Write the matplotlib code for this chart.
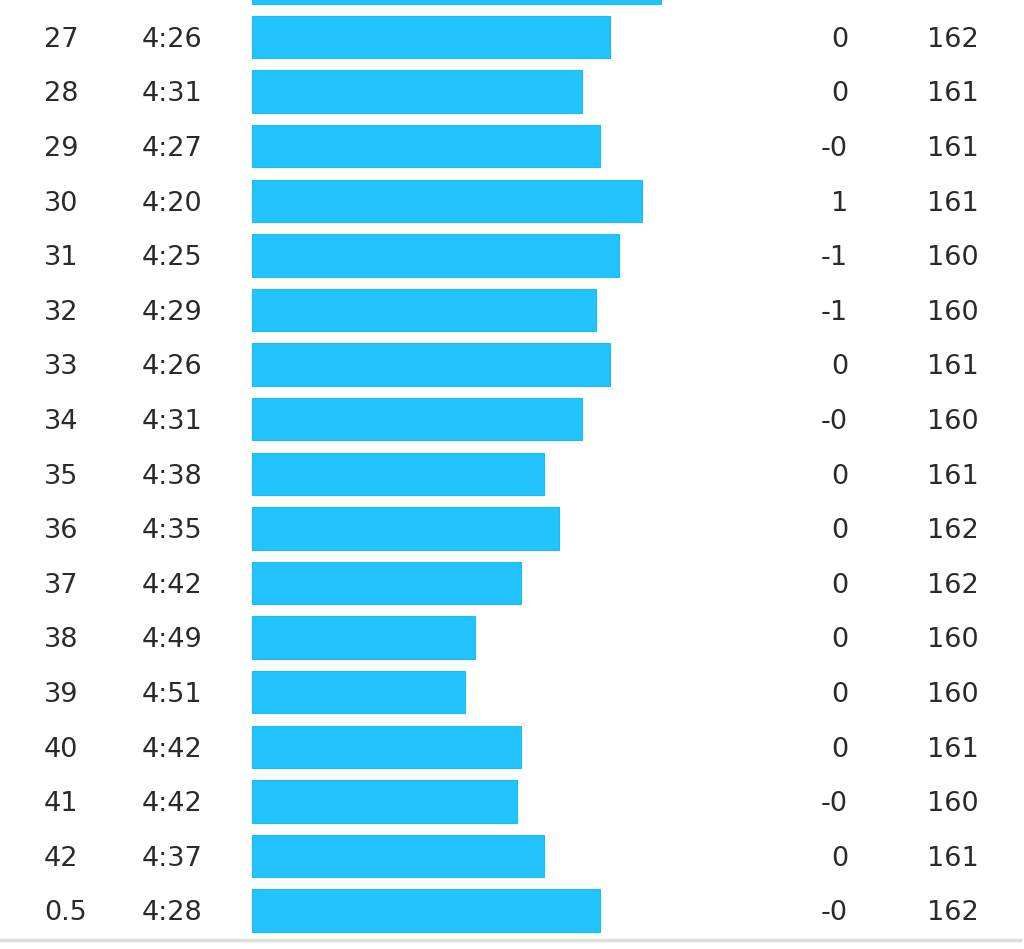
import matplotlib
matplotlib.use("Agg")
import matplotlib.pyplot as plt

# lap table (first row is cut off at the top of the screenshot, only its bar shows)
laps = ["26", "27", "28", "29", "30", "31", "32", "33", "34", "35",
        "36", "37", "38", "39", "40", "41", "42", "0.5"]
paces = ["4:17", "4:26", "4:31", "4:27", "4:20", "4:25", "4:29", "4:26", "4:31", "4:38",
         "4:35", "4:42", "4:49", "4:51", "4:42", "4:42", "4:37", "4:28"]
bar_vals = [409, 358, 330, 348, 390, 367, 344, 358, 330, 292,
            307, 269, 223, 213, 269, 265, 292, 348]
elev = ["0", "0", "0", "-0", "1", "-1", "-1", "0", "-0", "0",
        "0", "0", "0", "0", "0", "-0", "0", "-0"]
hr = ["162", "162", "161", "161", "161", "160", "160", "161", "160", "161",
      "162", "162", "160", "160", "161", "160", "161", "162"]

bar_color = "#22C3FF"
text_color = "#2a2a2a"
pitch = 54.6
row0_px = 37 - pitch  # centre of the cut-off row, in pixels from the top

fig = plt.figure(figsize=(10.24, 9.49), dpi=100)
ax = fig.add_axes([0, 0, 1, 1])
ax.set_xlim(0, 1024)
top = -row0_px / pitch
ax.set_ylim(top + 949 / pitch, top)
ax.axis("off")

rows = list(range(len(laps)))
ax.barh(rows, bar_vals, left=252, height=0.78, color=bar_color,
        edgecolor="#1ABCF5", linewidth=0.8)

fs = 19.5
for i in rows:
    yb = i + 0.18
    if yb - 0.4 < top:
        continue  # text of the cut-off row is outside the picture
    ax.text(44, yb, laps[i], ha="left", va="baseline", fontsize=fs, color=text_color)
    ax.text(142, yb, paces[i], ha="left", va="baseline", fontsize=fs, color=text_color)
    ax.text(848, yb, elev[i], ha="right", va="baseline", fontsize=fs, color=text_color)
    ax.text(979, yb, hr[i], ha="right", va="baseline", fontsize=fs, color=text_color)

# grey separator under the table
line_y = (940 - row0_px) / pitch
ax.plot([0, 1020], [line_y, line_y], color="#DEDEDE", linewidth=2.5)

fig.savefig("out.png", dpi=100)
